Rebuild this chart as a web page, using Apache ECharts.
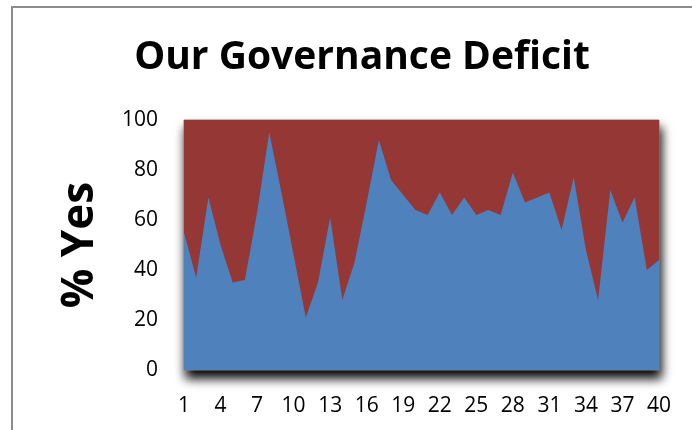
<!DOCTYPE html>
<html><head><meta charset="utf-8">
<script src="https://cdn.jsdelivr.net/npm/echarts@6/dist/echarts.min.js"></script>
<style>html,body{margin:0;padding:0;background:#fff}#c{width:692px;height:430px}</style>
</head><body><div id="c"></div>
<script>
const categories = ['1','2','3','4','5','6','7','8','9','10','11','12','13','14','15','16','17','18','19','20','21','22','23','24','25','26','27','28','29','30','31','32','33','34','35','36','37','38','39','40'];
const yesValues = [55,37,69,50,35,36,63,95,71,46,21,35,61,28,43,67,92,76,70,64,62,71,62,69,62,64,62,79,67,69,71,56,77,48,28,72,59,69,40,44];
const noValues  = [45,63,31,50,65,64,37,5,29,54,79,65,39,72,57,33,8,24,30,36,38,29,38,31,38,36,38,21,33,31,29,44,23,52,72,28,41,31,60,56];
const yTicks = [0,20,40,60,80,100];

const chart = echarts.init(document.getElementById('c'), null, {renderer:'canvas'});
const font = '"Open Sans", "Liberation Sans", sans-serif';
chart.setOption({
  animation:false,
  backgroundColor:'#fff',
  graphic:[{type:'polyline', shape:{points:[[12,430],[12,7],[692,7]]}, style:{stroke:'#8c8c8c', lineWidth:2, fill:null}}],
  title:{text:'Our Governance Deficit', left:357, top:33, textAlign:'center',
    textStyle:{fontFamily:font, fontWeight:'bold', fontSize:39, color:'#000'}},
  grid:{left:184, right:33, top:120, bottom:60, show:true, backgroundColor:'#4f81bd',
    borderColor:'#888', borderWidth:1, shadowColor:'rgba(0,0,0,1)', shadowBlur:10, shadowOffsetX:2, shadowOffsetY:8},
  xAxis:{type:'category', data:categories, boundaryGap:false,
    axisLine:{show:false}, axisTick:{show:false}, splitLine:{show:false},
    axisLabel:{interval:2, margin:26, fontFamily:font, fontSize:21, color:'#000'}},
  yAxis:{type:'value', min:yTicks[0], max:yTicks[yTicks.length-1], interval:20,
    name:'% Yes', nameLocation:'middle', nameGap:82, nameRotate:90,
    nameTextStyle:{fontFamily:font, fontWeight:'bold', fontSize:44, color:'#000'},
    axisLine:{show:false}, axisTick:{show:false}, splitLine:{show:false},
    axisLabel:{margin:26, fontFamily:font, fontSize:21, color:'#000', padding:[4,0,0,0]}},
  series:[
    {name:'Yes', type:'line', stack:'t', data:yesValues, symbol:'none', lineStyle:{width:0},
      areaStyle:{color:'#4f81bd', opacity:1}},
    {name:'No', type:'line', stack:'t', data:noValues, symbol:'none', lineStyle:{width:0},
      areaStyle:{color:'#953735', opacity:1}}
  ]
});
</script></body></html>
